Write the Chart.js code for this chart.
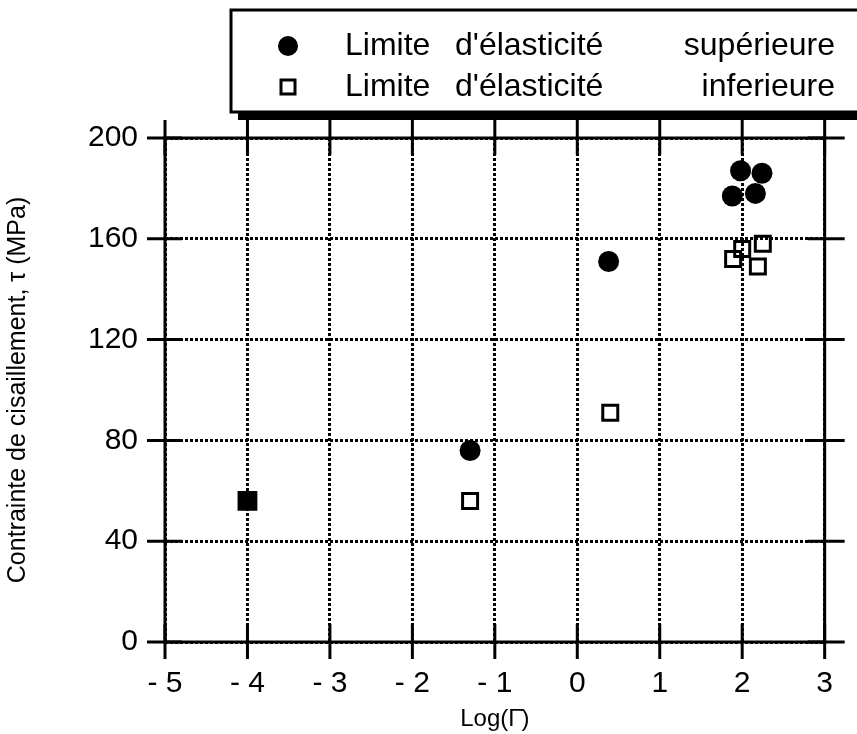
<!DOCTYPE html>
<html>
<head>
<meta charset="utf-8">
<script src="https://cdn.jsdelivr.net/npm/chart.js@4.4.1/dist/chart.umd.min.js"></script>
<style>
    body { margin: 0; background: #fff; }
    #wrap { width: 857px; height: 734px; }
</style>
</head>
<body>
<div id="wrap"><canvas id="chart" width="857" height="734"></canvas></div>
<script>
// values
var upperLabel = "Limite d'élasticité supérieure";
var upperX = [-1.3, 0.38, 1.98, 2.24, 1.88, 2.16];
var upperY = [76, 151, 187, 186, 177, 178];

var lowerLabel = "Limite d'élasticité inferieure";
var lowerX = [-1.3, 0.4, 2.0, 2.25, 1.89, 2.19];
var lowerY = [56, 91, 156, 158, 152, 149];

// both limits at the same point (drawn as a filled square)
var sameX = [-4];
var sameY = [56];

var xTickMin = -5, xTickMax = 3, xStep = 1;
var yTickMin = 0, yTickMax = 200, yStep = 40;

var xTitle = 'Log(\u0393\u0307)';
var yTitle = 'Contrainte de cisaillement, \u03c4 (MPa)';

var FONT = "'Liberation Sans', Arial, Helvetica, sans-serif";

function toPoints(xs, ys) {
    return xs.map(function(v, i) { return {x: v, y: ys[i]}; });
}

function line(ctx, x1, y1, x2, y2) {
    ctx.beginPath();
    ctx.moveTo(x1, y1);
    ctx.lineTo(x2, y2);
    ctx.stroke();
}

// solid frame and ticks crossing the frame
var framePlugin = {
    id: 'frame',
    beforeDatasetsDraw: function(chart) {
        var ctx = chart.ctx, a = chart.chartArea;
        var xs = chart.scales.x, ys = chart.scales.y;
        ctx.save();
        ctx.strokeStyle = '#000';
        ctx.lineWidth = 3;
        ctx.strokeRect(a.left, a.top, a.right - a.left, a.bottom - a.top);
        xs.ticks.forEach(function(t) {
            var px = xs.getPixelForValue(t.value);
            line(ctx, px, a.bottom - 18, px, a.bottom + 17);
            line(ctx, px, a.top - 18, px, a.top + 17);
        });
        ys.ticks.forEach(function(t) {
            var py = ys.getPixelForValue(t.value);
            line(ctx, a.left - 18, py, a.left + 17, py);
            line(ctx, a.right - 17, py, a.right + 20, py);
        });
        ctx.restore();
    }
};

// boxed legend with a drop shadow, top right
var boxLegendPlugin = {
    id: 'boxLegend',
    afterDraw: function(chart) {
        var ctx = chart.ctx;
        var left = 231, top = 10, right = 890, bottom = 112;
        ctx.save();
        ctx.fillStyle = '#000';
        ctx.fillRect(left + 7, top + 8, right - left, bottom - top);
        ctx.fillStyle = '#fff';
        ctx.fillRect(left, top, right - left, bottom - top);
        ctx.strokeStyle = '#000';
        ctx.lineWidth = 3;
        ctx.strokeRect(left, top, right - left, bottom - top);

        var rows = [
            {ds: chart.data.datasets[0], y: 46},
            {ds: chart.data.datasets[1], y: 87}
        ];
        ctx.font = '32px ' + FONT;
        ctx.textBaseline = 'middle';
        ctx.fillStyle = '#000';
        rows.forEach(function(r) {
            if (r.ds.pointStyle === 'circle') {
                ctx.beginPath();
                ctx.arc(288, r.y, 10, 0, Math.PI * 2);
                ctx.fill();
            } else {
                ctx.lineWidth = 3;
                ctx.strokeRect(281, r.y - 7, 14, 14);
            }
            var words = r.ds.label.split(' ');
            ctx.textAlign = 'left';
            ctx.fillText(words[0], 345, r.y);
            ctx.fillText(words[1], 455, r.y);
            ctx.textAlign = 'right';
            ctx.fillText(words[2], 835, r.y);
        });
        ctx.restore();
    }
};

var data = {
    datasets: [
        {
            label: upperLabel,
            data: toPoints(upperX, upperY),
            pointStyle: 'circle',
            pointRadius: 10.5,
            pointHoverRadius: 10.5,
            backgroundColor: '#000',
            borderColor: '#000',
            borderWidth: 0
        },
        {
            label: lowerLabel,
            data: toPoints(lowerX, lowerY),
            pointStyle: 'rect',
            pointRadius: 10.6,
            pointHoverRadius: 10.6,
            backgroundColor: 'rgba(0,0,0,0)',
            borderColor: '#000',
            borderWidth: 3
        },
        {
            label: 'both',
            data: toPoints(sameX, sameY),
            pointStyle: 'rect',
            pointRadius: 14,
            pointHoverRadius: 14,
            backgroundColor: '#000',
            borderColor: '#000',
            borderWidth: 0
        }
    ]
};

var config = {
    type: 'scatter',
    data: data,
    options: {
        responsive: false,
        devicePixelRatio: 1,
        animation: false,
        layout: {
            padding: {top: 138, right: 25, left: 0, bottom: 0}
        },
        plugins: {
            legend: {display: false},
            tooltip: {enabled: false}
        },
        scales: {
            x: {
                type: 'linear',
                min: xTickMin,
                max: xTickMax,
                afterFit: function(scale) { scale.height = 92; },
                ticks: {
                    stepSize: xStep,
                    color: '#000',
                    padding: 24,
                    font: {family: FONT, size: 30},
                    callback: function(v) { return v < 0 ? '- ' + Math.abs(v) : '' + v; }
                },
                grid: {
                    color: '#000',
                    lineWidth: 3,
                    drawTicks: false,
                    borderDash: [3, 2]
                },
                border: {display: false, dash: [3, 2]},
                title: {
                    display: true,
                    text: xTitle,
                    color: '#000',
                    font: {family: FONT, size: 24},
                    padding: {top: 0, bottom: 0}
                }
            },
            y: {
                type: 'linear',
                min: yTickMin,
                max: yTickMax,
                afterFit: function(scale) { scale.width = 165; },
                ticks: {
                    stepSize: yStep,
                    color: '#000',
                    padding: 27,
                    font: {family: FONT, size: 30}
                },
                grid: {
                    color: '#000',
                    lineWidth: 3,
                    drawTicks: false,
                    borderDash: [3, 2]
                },
                border: {display: false, dash: [3, 2]},
                title: {
                    display: true,
                    text: yTitle,
                    color: '#000',
                    font: {family: FONT, size: 25},
                    padding: {top: 3, bottom: 0}
                }
            }
        }
    },
    plugins: [framePlugin, boxLegendPlugin]
};

var myChart = new Chart(document.getElementById('chart'), config);
</script>
</body>
</html>
